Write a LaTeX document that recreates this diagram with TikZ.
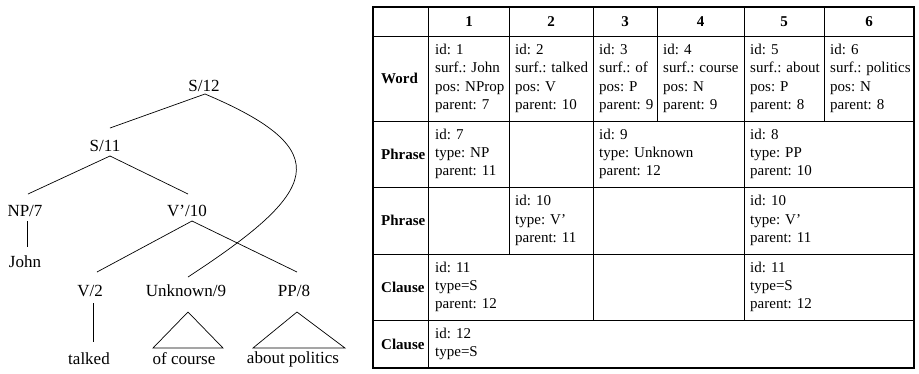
\documentclass[tikz,border=0pt]{standalone}
\usepackage{fontspec}
\setmainfont{Liberation Serif}
\begin{document}
\begin{tikzpicture}[x=1pt,y=-1pt,
  lbl/.style={inner sep=0pt,font=\fontsize{17}{20}\selectfont},
  cell/.style={inner sep=0pt,anchor=west,align=left,font=\fontsize{15}{18.3}\selectfont},
  rowhead/.style={inner sep=0pt,anchor=west,font=\fontsize{15}{18.3}\selectfont\bfseries},
  colhead/.style={inner sep=0pt,font=\fontsize{15}{18.3}\selectfont\bfseries},
  edge/.style={line width=0.7pt},
  grid/.style={line width=0.8pt},
  frame/.style={line width=1.4pt}]
\useasboundingbox (0,0) rectangle (919,373);
% ---------- tree ----------
\node[lbl] (s12) at (204,86) {S/12};
\node[lbl] (s11) at (105,146) {S/11};
\node[lbl] (np7) at (25,211) {NP/7};
\node[lbl] (v10) at (187,211) {V’/10};
\node[lbl] (john) at (25,262) {John};
\node[lbl] (v2) at (90,291) {V/2};
\node[lbl] (unk) at (186,291) {Unknown/9};
\node[lbl] (pp8) at (294,291) {PP/8};
\node[lbl] (talked) at (89,359) {talked};
\node[lbl] (ofc) at (184,359) {of course};
\node[lbl] (abp) at (293,359) {about politics};
\draw[edge] ([shift={(1,8)}]s12.center) -- ([shift={(5,-18)}]s11.center);
\draw[edge] ([shift={(5,10)}]s11.center) -- ([shift={(3,-17)}]np7.center);
\draw[edge] ([shift={(5,10)}]s11.center) -- ([shift={(1,-17)}]v10.center);
\draw[edge] ([shift={(2,10)}]np7.center) -- ([shift={(2,-15)}]john.center);
\draw[edge] ([shift={(5,10)}]v10.center) -- ([shift={(7,-19)}]v2.center);
\draw[edge] ([shift={(5,10)}]v10.center) -- ([shift={(3,-19)}]pp8.center);
\draw[edge] ([shift={(1,8)}]s12.center) .. controls (340,151) and (318,192) .. ([shift={(2,-14)}]unk.center);
\draw[edge] ([shift={(3,12)}]v2.center) -- ([shift={(4,-17)}]talked.center);
\draw[edge] ([shift={(2,21)}]unk.center) -- ([shift={(-31,-11)}]ofc.center) -- ([shift={(39,-11)}]ofc.center) -- cycle;
\draw[edge] ([shift={(3,21)}]pp8.center) -- ([shift={(-40,-11)}]abp.center) -- ([shift={(52,-11)}]abp.center) -- cycle;
% ---------- table ----------
\draw[grid] (373,36) -- (914,36);
\draw[grid] (373,121) -- (914,121);
\draw[grid] (373,187) -- (914,187);
\draw[grid] (373,254) -- (914,254);
\draw[grid] (373,320) -- (914,320);
\draw[grid] (428.5,7) -- (428.5,368);
\draw[grid] (509,7) -- (509,254);
\draw[grid] (593,7) -- (593,320);
\draw[grid] (657,7) -- (657,121);
\draw[grid] (744,7) -- (744,320);
\draw[grid] (824,7) -- (824,121);
\draw[frame] (373,7) rectangle (914,368);
% header
\node[colhead] (h1) at (469,21.5) {1};
\node[colhead] (h2) at (551,21.5) {2};
\node[colhead] (h3) at (625,21.5) {3};
\node[colhead] (h4) at (700.5,21.5) {4};
\node[colhead] (h5) at (784,21.5) {5};
\node[colhead] (h6) at (869,21.5) {6};
% row heads
\node[rowhead] (rw) at (381,78.5) {Word};
\node[rowhead] (rp1) at (381,154) {Phrase};
\node[rowhead] (rp2) at (381,220.5) {Phrase};
\node[rowhead] (rc1) at (381,287) {Clause};
\node[rowhead] (rc2) at (381,344) {Clause};
% word row
\node[cell] (w1) at (435,78.5) {id: 1\\surf.: John\\pos: NProp\\parent: 7};
\node[cell] (w2) at (515,78.5) {id: 2\\surf.: talked\\pos: V\\parent: 10};
\node[cell] (w3) at (599,78.5) {id: 3\\surf.: of\\pos: P\\parent: 9};
\node[cell] (w4) at (663,78.5) {id: 4\\surf.: course\\pos: N\\parent: 9};
\node[cell] (w5) at (750,78.5) {id: 5\\surf.: about\\pos: P\\parent: 8};
\node[cell] (w6) at (830,78.5) {id: 6\\surf.: politics\\pos: N\\parent: 8};
% phrase row 1
\node[cell] (p7) at (435,154) {id: 7\\type: NP\\parent: 11};
\node[cell] (p9) at (599,154) {id: 9\\type: Unknown\\parent: 12};
\node[cell] (p8) at (750,154) {id: 8\\type: PP\\parent: 10};
% phrase row 2
\node[cell] (p10a) at (515,220.5) {id: 10\\type: V’\\parent: 11};
\node[cell] (p10b) at (750,220.5) {id: 10\\type: V’\\parent: 11};
% clause row 1
\node[cell] (c11a) at (435,287) {id: 11\\type=S\\parent: 12};
\node[cell] (c11b) at (750,287) {id: 11\\type=S\\parent: 12};
% clause row 2
\node[cell] (c12) at (435,344) {id: 12\\type=S};
\end{tikzpicture}
\end{document}
